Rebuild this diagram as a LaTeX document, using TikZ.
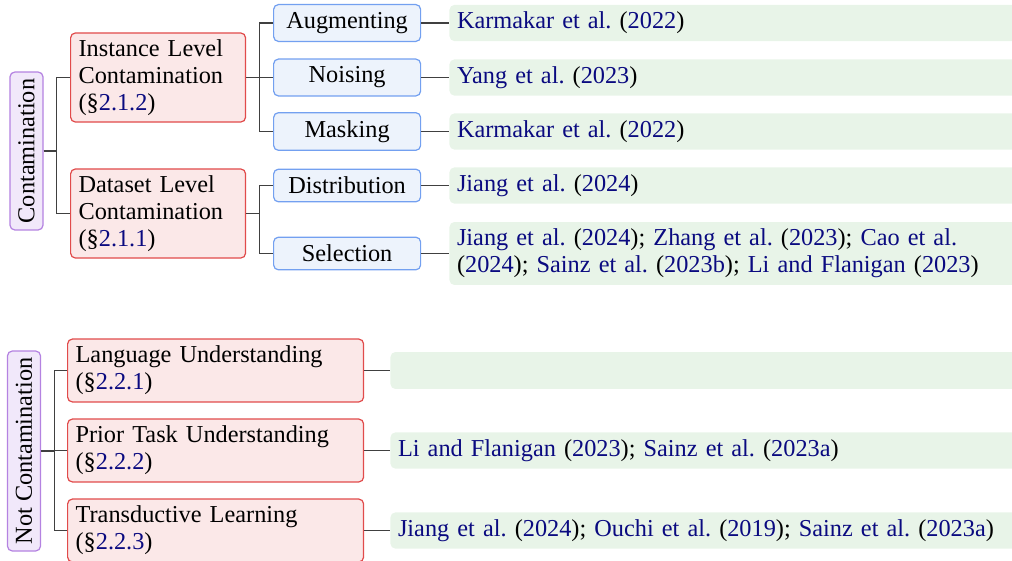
\documentclass[tikz,border=0pt]{standalone}
\usepackage{graphicx}
\usepackage{fontspec}
\setmainfont{Liberation Serif}
\usepackage{tikz}
\frenchspacing
\definecolor{azulcita}{RGB}{10,10,128}
\definecolor{lilaborde}{RGB}{180,130,225}
\definecolor{lilafondo}{RGB}{241,232,250}
\definecolor{rojoborde}{RGB}{225,75,75}
\definecolor{rojofondo}{RGB}{251,232,232}
\definecolor{azulborde}{RGB}{115,160,240}
\definecolor{azulfondo}{RGB}{237,243,252}
\definecolor{verdefondo}{RGB}{232,244,232}
\newcommand{\secc}[1]{{\color{azulcita}#1}}
\newcommand{\refcita}[2]{{\color{azulcita}#1} ({\color{azulcita}#2})}
\tikzstyle{raiz}=[draw=lilaborde,fill=lilafondo,rounded corners=2pt,line width=0.5pt,inner sep=0pt,minimum width=13.6pt,font=\fontsize{10}{12}\selectfont]
\tikzstyle{rama}=[draw=rojoborde,fill=rojofondo,rounded corners=2pt,line width=0.5pt,align=left,inner xsep=3.3pt,inner ysep=2.8pt,font=\fontsize{10}{11}\selectfont]
\tikzstyle{hoja}=[draw=azulborde,fill=azulfondo,rounded corners=2pt,line width=0.5pt,inner ysep=3.2pt,minimum width=60.5pt,font=\fontsize{10}{12}\selectfont]
\tikzstyle{cita}=[fill=verdefondo,rounded corners=2pt,align=left,text width=260pt,inner xsep=3.1pt,inner ysep=2.9pt,font=\fontsize{10}{11}\selectfont]
\tikzstyle{conector}=[line width=0.5pt,black!75]

\begin{document}
\begin{tikzpicture}[x=0.4115pt,y=-0.4115pt]
    \useasboundingbox (0,0) rectangle (1012,560);
    % contamination
    \node [raiz, minimum height=65pt] (cont) at (26.5,151) {\rotatebox{90}{Contamination}};
    \node [rama, text width=65.4pt, minimum height=36.6pt, anchor=west] (inst) at (70,77.5) {Instance Level\\Contamination\\(\S\secc{2.1.2})};
    \node [rama, text width=65.4pt, minimum height=36.6pt, anchor=west] (data) at (70,213.5) {Dataset Level\\Contamination\\(\S\secc{2.1.1})};
    \node [hoja, anchor=west] (aug) at (273,23) {Augmenting};
    \node [hoja, anchor=west] (noi) at (273,77.5) {Noising};
    \node [hoja, anchor=west] (mas) at (273,131.5) {Masking};
    \node [hoja, anchor=west] (dis) at (273,185.5) {Distribution};
    \node [hoja, anchor=west] (sel) at (273,253.5) {Selection};
    \node [cita, anchor=west] (caug) at (449,23) {\refcita{Karmakar et al.}{2022}};
    \node [cita, anchor=west] (cnoi) at (449,77.5) {\refcita{Yang et al.}{2023}};
    \node [cita, anchor=west] (cmas) at (449,131.5) {\refcita{Karmakar et al.}{2022}};
    \node [cita, anchor=west] (cdis) at (449,185.5) {\refcita{Jiang et al.}{2024}};
    \node [cita, anchor=west] (csel) at (449,253.5) {\refcita{Jiang et al.}{2024}; \refcita{Zhang et al.}{2023}; {\color{azulcita}Cao et al.}\\({\color{azulcita}2024}); \refcita{Sainz et al.}{2023b}; \refcita{Li and Flanigan}{2023}};
    \draw [conector] (cont.east) -- ++(13,0) |- (inst.west);
    \draw [conector] (cont.east) -- ++(13,0) |- (data.west);
    \draw [conector] (inst.east) -- ++(13,0) |- (aug.west);
    \draw [conector] (inst.east) -- ++(13,0) |- (noi.west);
    \draw [conector] (inst.east) -- ++(13,0) |- (mas.west);
    \draw [conector] (data.east) -- ++(13,0) |- (dis.west);
    \draw [conector] (data.east) -- ++(13,0) |- (sel.west);
    \draw [conector] (aug.east) -- (caug.west);
    \draw [conector] (noi.east) -- (cnoi.west);
    \draw [conector] (mas.east) -- (cmas.west);
    \draw [conector] (dis.east) -- (cdis.west);
    \draw [conector] (sel.east) -- (csel.west);
    % not contamination
    \node [raiz, minimum height=82.3pt] (ncont) at (24,451) {\rotatebox{90}{Not Contamination}};
    \node [rama, text width=115.2pt, minimum height=25.9pt, anchor=west] (lang) at (67,370.5) {Language Understanding\\(\S\secc{2.2.1})};
    \node [rama, text width=115.2pt, minimum height=25.9pt, anchor=west] (prior) at (67,450.5) {Prior Task Understanding\\(\S\secc{2.2.2})};
    \node [rama, text width=115.2pt, minimum height=25.9pt, anchor=west] (trans) at (67,530.5) {Transductive Learning\\(\S\secc{2.2.3})};
    \node [cita, minimum height=15.2pt, anchor=west] (clang) at (390,370.5) {};
    \node [cita, anchor=west] (cprior) at (390,450.5) {\refcita{Li and Flanigan}{2023}; \refcita{Sainz et al.}{2023a}};
    \node [cita, anchor=west] (ctrans) at (390,530.5) {\refcita{Jiang et al.}{2024}; \refcita{Ouchi et al.}{2019}; \refcita{Sainz et al.}{2023a}};
    \draw [conector] (ncont.east) -- ++(13,0) |- (lang.west);
    \draw [conector] (ncont.east) -- ++(13,0) |- (prior.west);
    \draw [conector] (ncont.east) -- ++(13,0) |- (trans.west);
    \draw [conector] (lang.east) -- (clang.west);
    \draw [conector] (prior.east) -- (cprior.west);
    \draw [conector] (trans.east) -- (ctrans.west);
\end{tikzpicture}
\end{document}
